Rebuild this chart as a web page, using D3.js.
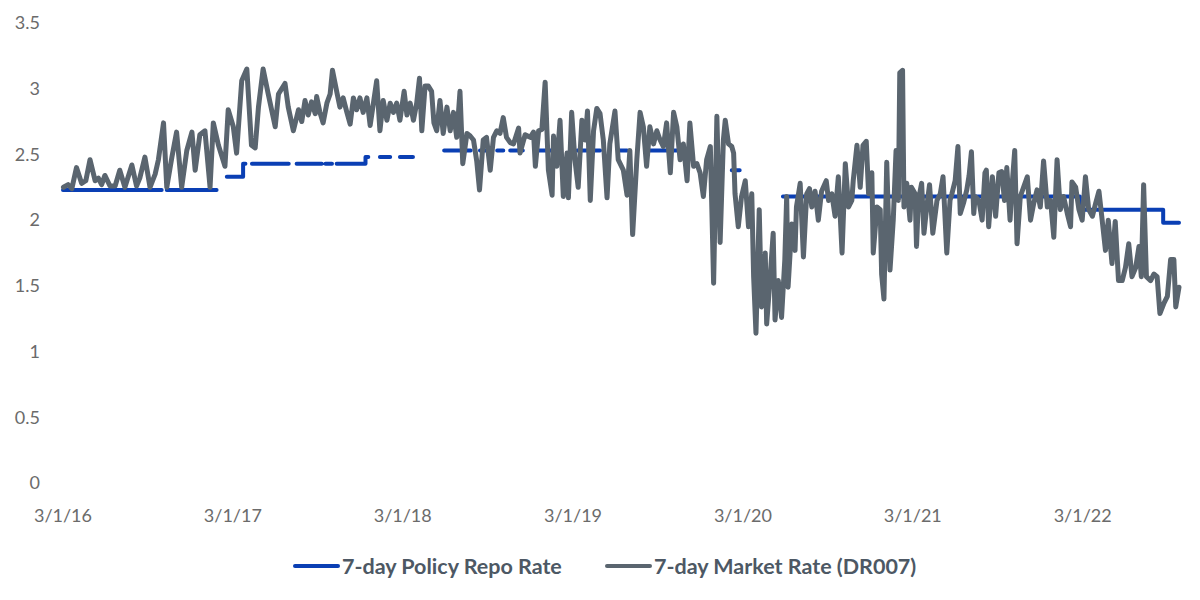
<!DOCTYPE html>
<meta charset="utf-8">
<script src="https://d3js.org/d3.v7.min.js"></script>
<style>
  body { margin: 0; background: #fff; }
  text { font-family: Lato, "Open Sans", sans-serif; }
</style>
<svg id="chart" width="1200" height="600"></svg>
<script>

// days counted from 3/1/16
var startDate = new Date(2016, 2, 1)
var lastDay = 2398

var tickDays = [0, 365, 730, 1096, 1461, 1826, 2191]
var tickLabels = ["3/1/16", "3/1/17", "3/1/18", "3/1/19", "3/1/20", "3/1/21", "3/1/22"]
var yTicks = [0, 0.5, 1, 1.5, 2, 2.5, 3, 3.5]

// 7-day policy repo rate (null = no value, gap in the line)
var policyDay = [0, 212, null, 223, 330, null, 352, 387, 392, null, 406, 485, null, 502, 556, null,
  564, 578, null, 588, 650, 656, null, 681, 703, null, 724, 752, null, 819, 876, null, 896, 911, null,
  933, 946, null, 961, 988, null, 1019, 1053, null, 1105, 1154, null, 1197, 1212, null, 1261, 1341, null,
  1437, 1454, null, 1547, 2185, 2364, 2398]
var policyRate = [2.23, 2.23, null, 2.23, 2.23, null, 2.33, 2.43, 2.43, null, 2.43, 2.43, null, 2.43, 2.43, null,
  2.43, 2.43, null, 2.43, 2.48, 2.48, null, 2.48, 2.48, null, 2.48, 2.48, null, 2.53, 2.53, null, 2.53, 2.53, null,
  2.53, 2.53, null, 2.53, 2.53, null, 2.53, 2.53, null, 2.53, 2.53, null, 2.53, 2.53, null, 2.53, 2.53, null,
  2.38, 2.38, null, 2.18, 2.08, 1.98, 1.98]

// 7-day market rate (DR007)
var marketDay = [1,11,19,29,40,49,58,69,76,83,90,101,112,122,133,148,158,165,176,187,198,205,216,223,234,244,255,266,277,284,
  294,305,316,323,334,348,355,366,373,384,395,405,413,420,430,441,456,463,
  477,484,495,506,513,520,527,534,542,545,552,559,567,574,579,588,595,602,610,617,624,631,638,645,653,660,667,674,681,688,
  696,703,710,717,724,733,739,746,753,760,766,771,778,785,792,797,803,810,817,825,832,839,846,853,859,868,875,882,889,895,
  903,910,918,925,932,939,946,953,961,
  968,979,982,993,1004,1011,1015,1022,1029,1036,1043,1051,1054,1061,1068,1075,1083,1086,1093,1100,
  1107,1115,1122,1127,1133,1140,1147,1154,1161,1169,1175,1186,1193,1204,1212,1218,1224,1233,1240,1247,
  1254,1261,1269,1276,1283,1290,1297,1305,1312,1319,1326,1333,1341,1347,1355,1362,1369,1376,1383,1391,1398,1405,1412,
  1419,1423,1430,1437,1441,1444,1451,1458,1466,1473,1480,1484,1489,1496,1501,1509,1512,1519,1526,1530,
  1537,1544,1551,1555,1558,1566,1573,1576,1584,1591,1598,1604,1609,1616,1623,1630,1640,1645,1652,1659,
  1666,1674,1681,1688,1695,1698,1706,1713,1719,1726,1731,1738,1741,1749,1756,1759,1764,1770,1777,1784,
  1790,1795,1798,1804,1807,1813,1820,1823,1831,1834,1838,1845,1850,1856,1862,1869,1878,1885,1891,1899,1906,
  1910,1917,1923,1928,1935,1942,1947,1952,1957,1960,1968,1975,1981,1984,1989,1997,2004,2011,2017,2023,
  2028,2035,2039,2045,2050,2057,2064,2072,2079,2086,2093,2100,2107,2115,2122,2129,2136,2143,2150,2158,
  2165,2168,2176,2183,2190,2197,2204,2212,2219,2226,2232,2240,2246,2254,2261,2268,2276,2283,2290,2297,
  2305,2312,2317,2322,2328,2337,2344,2351,2357,2366,2373,2380,2387,2391,2398]
var marketRate = [2.25,2.27,2.24,2.40,2.28,2.30,2.46,2.30,2.32,2.27,2.34,2.26,2.26,2.38,2.25,2.42,2.26,2.32,2.48,2.25,
  2.35,2.46,2.74,2.25,2.48,2.67,2.25,2.53,2.67,2.38,2.65,2.68,2.25,2.74,2.57,2.41,2.84,2.71,2.51,3.06,
  3.15,2.57,2.55,2.86,3.15,2.96,2.71,2.96,
  3.04,2.86,2.68,2.84,2.75,2.91,2.80,2.90,2.81,2.94,2.82,2.74,2.89,2.96,3.14,2.98,2.86,2.93,2.82,2.73,
  2.93,2.84,2.93,2.82,2.93,2.72,2.89,3.06,2.68,2.91,2.76,2.89,2.82,2.89,2.76,2.98,2.80,2.89,2.76,2.89,
  3.08,2.68,3.02,3.02,2.98,2.74,2.68,2.91,2.66,2.86,2.68,2.82,2.63,2.98,2.43,2.66,2.64,2.61,2.45,2.23,
  2.61,2.63,2.38,2.63,2.68,2.66,2.78,2.63,2.59,
  2.58,2.70,2.51,2.65,2.63,2.67,2.41,2.68,2.69,3.05,2.38,2.19,2.64,2.41,2.76,2.18,2.51,2.17,2.82,2.46,
  2.25,2.76,2.61,2.83,2.15,2.68,2.85,2.81,2.61,2.17,2.58,2.83,2.46,2.38,2.19,2.53,1.89,2.46,2.82,2.71,
  2.41,2.71,2.58,2.68,2.61,2.56,2.74,2.36,2.82,2.71,2.46,2.58,2.30,2.74,2.41,2.43,2.36,2.18,2.46,2.56,1.52,2.79,1.83,
  2.61,2.76,2.58,2.56,2.51,2.20,1.95,2.18,2.30,1.95,2.20,1.57,1.14,2.08,1.34,1.75,1.21,1.54,1.90,1.24,
  1.54,1.26,1.70,2.18,1.49,1.97,1.77,2.10,2.28,1.72,2.20,2.24,2.10,2.22,2.00,2.22,2.30,2.15,2.20,2.03,
  2.33,1.75,2.43,2.10,2.15,2.30,2.57,2.25,2.57,2.60,2.20,2.36,1.75,2.10,2.08,1.59,1.40,2.44,1.62,2.00,
  2.53,2.15,3.12,3.14,2.10,2.28,2.00,2.25,2.20,1.80,2.15,2.28,1.90,2.10,2.27,1.90,2.15,2.20,2.33,1.75,2.15,
  2.20,2.30,2.56,2.05,2.13,2.23,2.34,2.52,2.05,2.18,2.15,2.00,2.36,2.38,1.95,2.33,2.03,2.36,2.37,2.15,
  2.40,2.00,2.25,2.53,1.82,2.18,2.25,2.33,2.00,2.13,2.23,2.10,2.45,2.10,2.15,1.87,2.46,2.08,2.18,2.05,
  1.95,2.29,2.25,2.08,2.00,2.33,2.08,2.03,2.13,2.22,2.03,1.77,2.00,1.67,1.99,1.54,1.54,1.64,1.82,1.57,
  1.64,1.80,1.57,2.27,1.57,1.54,1.59,1.57,1.29,1.37,1.42,1.70,1.70,1.34,1.49]

var legendNames = ["7-day Policy Repo Rate", "7-day Market Rate (DR007)"]

var blue = "#0a3fb4"
var grey = "#5a656f"

var svg = d3.select("#chart")

function dayToDate(d) { return d3.timeDay.offset(startDate, d) }

var x = d3.scaleTime()
  .domain([startDate, dayToDate(lastDay)])
  .range([63, 1179])

var y = d3.scaleLinear()
  .domain([0, 3.5])
  .range([483, 23])

// y axis labels
svg.append("g")
  .selectAll("text")
  .data(yTicks)
  .join("text")
    .attr("x", 40)
    .attr("y", function(d){ return y(d) })
    .attr("dy", "0.35em")
    .attr("text-anchor", "end")
    .style("font-size", "18px")
    .style("fill", "#6b6b6b")
    .text(function(d){ return d })

// x axis labels
svg.append("g")
  .selectAll("text")
  .data(tickDays)
  .join("text")
    .attr("x", function(d){ return x(dayToDate(d)) })
    .attr("y", 516)
    .attr("dy", "0.35em")
    .attr("text-anchor", "middle")
    .style("font-size", "18px")
    .style("fill", "#6b6b6b")
    .text(function(d, i){ return tickLabels[i] })

var policyData = policyDay.map(function(d, i){ return { day: d, rate: policyRate[i] } })
var marketData = marketDay.map(function(d, i){ return { day: d, rate: marketRate[i] } })

var policyLine = d3.line()
  .defined(function(d){ return d.rate !== null })
  .curve(d3.curveStepAfter)
  .x(function(d){ return x(dayToDate(d.day)) })
  .y(function(d){ return y(d.rate) })

var marketLine = d3.line()
  .x(function(d){ return x(dayToDate(d.day)) })
  .y(function(d){ return y(d.rate) })

svg.append("path")
  .datum(policyData)
  .attr("d", policyLine)
  .attr("fill", "none")
  .attr("stroke", blue)
  .attr("stroke-width", 4)
  .attr("stroke-linecap", "round")
  .attr("stroke-linejoin", "round")

svg.append("path")
  .datum(marketData)
  .attr("d", marketLine)
  .attr("fill", "none")
  .attr("stroke", grey)
  .attr("stroke-width", 5)
  .attr("stroke-linecap", "round")
  .attr("stroke-linejoin", "round")

// legend
var legendX = [295, 607]
var legendColors = [blue, grey]
var legend = svg.append("g")
  .selectAll("g")
  .data(legendNames)
  .join("g")
    .attr("transform", function(d, i){ return "translate(" + legendX[i] + ",566)" })

legend.append("line")
  .attr("x1", 0)
  .attr("x2", 43)
  .attr("stroke", function(d, i){ return legendColors[i] })
  .attr("stroke-width", 4)
  .attr("stroke-linecap", "round")

legend.append("text")
  .attr("x", 47)
  .attr("dy", "0.35em")
  .style("font-size", "21.5px")
  .style("font-weight", "bold")
  .style("fill", "#4d5864")
  .text(function(d){ return d })

</script>
